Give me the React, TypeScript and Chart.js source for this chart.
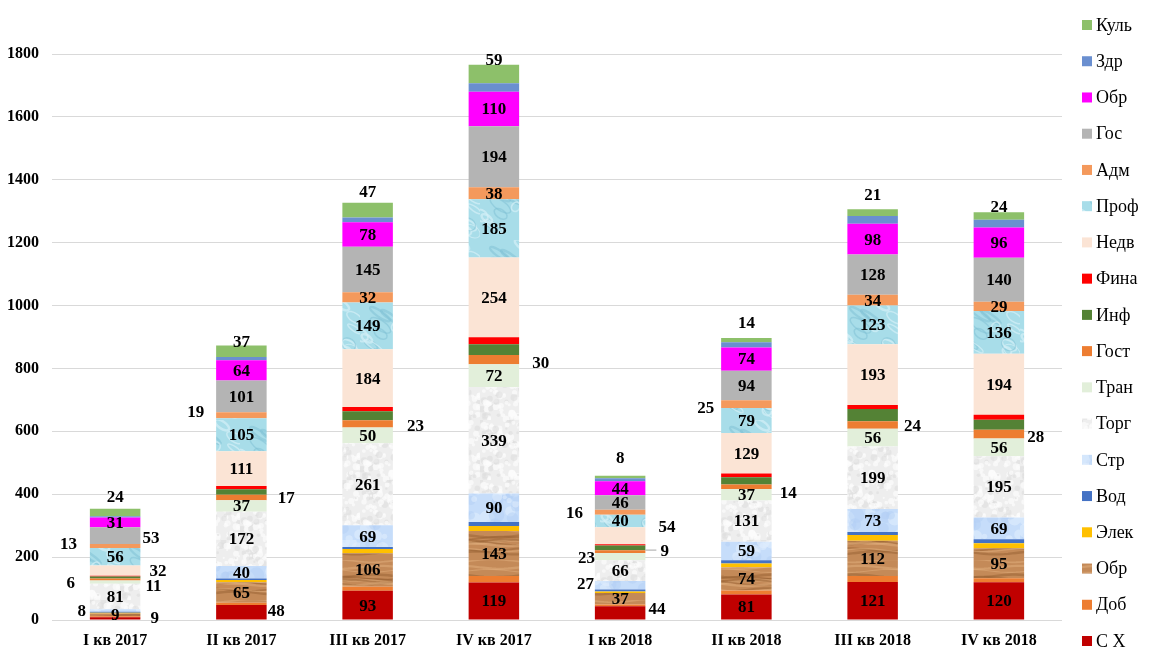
import React, { useEffect, useRef } from 'react';
import { Chart, registerables } from 'chart.js';

Chart.register(...registerables);

// ---------- DATA ----------
const categories = ['I кв 2017', 'II кв 2017', 'III кв 2017', 'IV кв 2017', 'I кв 2018', 'II кв 2018', 'III кв 2018', 'IV кв 2018'];

const seriesNames = ['С Х', 'Доб', 'Обр', 'Элек', 'Вод', 'Стр', 'Торг', 'Тран', 'Гост', 'Инф', 'Фина', 'Недв', 'Проф', 'Адм', 'Гос', 'Обр', 'Здр', 'Куль'];

const sx = [9, 48, 93, 119, 44, 81, 121, 120];
const dob = [3, 7, 13, 21, 5, 13, 19, 13];
const obrMan = [9, 65, 106, 143, 37, 74, 112, 95];
const elek = [2, 7, 14, 16, 5, 12, 18, 16];
const vod = [3, 5, 6, 13, 6, 10, 10, 13];
const str = [8, 40, 69, 90, 27, 59, 73, 69];
const torg = [81, 172, 261, 339, 66, 131, 199, 195];
const tran = [11, 37, 50, 72, 23, 37, 56, 56];
const gost = [6, 17, 23, 30, 9, 14, 24, 28];
const inf = [6, 18, 29, 34, 15, 23, 39, 32];
const fina = [3, 10, 13, 22, 4, 12, 13, 16];
const nedv = [32, 111, 184, 254, 54, 129, 193, 194];
const prof = [56, 105, 149, 185, 40, 79, 123, 136];
const adm = [13, 19, 32, 38, 16, 25, 34, 29];
const gos = [53, 101, 145, 194, 46, 94, 128, 140];
const obrEdu = [31, 64, 78, 110, 44, 74, 98, 96];
const zdr = [4, 10, 15, 27, 10, 16, 25, 25];
const kul = [24, 37, 47, 59, 8, 14, 21, 24];

const seriesValues = [sx, dob, obrMan, elek, vod, str, torg, tran, gost, inf, fina, nedv, prof, adm, gos, obrEdu, zdr, kul];

// ---------- LABEL LAYOUT (style, not data) ----------
const centreLabelled = [0, 2, 5, 6, 7, 11, 12, 13, 14, 15];
// outside labels: [series, bar, side, gap px from bar edge, dy px, leader]
const outsideLabels: [number, number, 'l' | 'r', number, number, boolean][] = [
  [0, 0, 'r', 10, -1, false],
  [5, 0, 'l', 4, 0, false],
  [8, 0, 'l', 15, 3, false],
  [7, 0, 'r', 5, 3, false],
  [11, 0, 'r', 9, 0, false],
  [13, 0, 'l', 13, -2, false],
  [14, 0, 'r', 2, 2, false],
  [0, 1, 'r', 1, -2, false],
  [8, 1, 'r', 11, 0, false],
  [13, 1, 'l', 12, -4, false],
  [8, 2, 'r', 14, 2, false],
  [8, 3, 'r', 13, 3, false],
  [0, 4, 'r', 3, -4, false],
  [5, 4, 'l', 1, -2, false],
  [7, 4, 'l', 0, 1, false],
  [8, 4, 'r', 15, -1, true],
  [11, 4, 'r', 13, -9, false],
  [13, 4, 'l', 12, 0, false],
  [8, 5, 'r', 8, 6, false],
  [13, 5, 'l', 7, 3, false],
  [8, 6, 'r', 6, 1, false],
  [8, 7, 'r', 3, 2, false],
];
const topLabelGap = [12, 4, 11, 5, 18, 15, 15, 6];

// ---------- TEXTURES ----------
function rnd(i: number) {
  const x = Math.sin(i * 12.9898 + 78.233) * 43758.5453;
  return x - Math.floor(x);
}

function makeCanvas(w: number, h: number) {
  const c = document.createElement('canvas');
  c.width = w;
  c.height = h;
  return c;
}

function woodPattern(ctx: CanvasRenderingContext2D) {
  const c = makeCanvas(80, 40);
  const g = c.getContext('2d')!;
  g.fillStyle = '#C48A58';
  g.fillRect(0, 0, 80, 40);
  for (let k = 0; k < 14; k++) {
    const y0 = rnd(k) * 40;
    g.strokeStyle = k % 2 ? 'rgba(150,95,50,0.5)' : 'rgba(225,175,125,0.5)';
    g.lineWidth = 1 + rnd(k + 50) * 1.5;
    g.beginPath();
    for (let x = 0; x <= 80; x += 4) {
      const y = y0 + Math.sin((x / 80) * Math.PI * 2 + k) * 1.5;
      if (x === 0) g.moveTo(x, y);
      else g.lineTo(x, y);
    }
    g.stroke();
  }
  return ctx.createPattern(c, 'repeat')!;
}

function marblePattern(ctx: CanvasRenderingContext2D) {
  const c = makeCanvas(60, 60);
  const g = c.getContext('2d')!;
  g.fillStyle = '#EEEEEE';
  g.fillRect(0, 0, 60, 60);
  for (let k = 0; k < 160; k++) {
    const x = rnd(k * 3) * 60;
    const y = rnd(k * 3 + 1) * 60;
    const r = 1 + rnd(k * 3 + 2) * 2.5;
    g.fillStyle = k % 3 === 0 ? 'rgba(222,222,222,0.6)' : 'rgba(252,252,252,0.7)';
    g.beginPath();
    g.arc(x, y, r, 0, Math.PI * 2);
    g.fill();
  }
  return ctx.createPattern(c, 'repeat')!;
}

function waterPattern(ctx: CanvasRenderingContext2D) {
  const c = makeCanvas(60, 60);
  const g = c.getContext('2d')!;
  g.fillStyle = '#A8DDE9';
  g.fillRect(0, 0, 60, 60);
  for (let k = 0; k < 16; k++) {
    const x0 = rnd(k * 5) * 60;
    const y0 = rnd(k * 5 + 1) * 60;
    g.strokeStyle = k % 3 === 0 ? 'rgba(125,192,212,0.5)' : 'rgba(212,240,247,0.7)';
    g.lineWidth = 1 + rnd(k * 5 + 2) * 1.5;
    g.beginPath();
    g.ellipse(x0, y0, 4 + rnd(k * 5 + 3) * 8, 2 + rnd(k * 5 + 4) * 4, 0.6, 0, Math.PI * 2);
    g.stroke();
  }
  return ctx.createPattern(c, 'repeat')!;
}

function skyPattern(ctx: CanvasRenderingContext2D) {
  const c = makeCanvas(60, 60);
  const g = c.getContext('2d')!;
  g.fillStyle = '#C6DDFA';
  g.fillRect(0, 0, 60, 60);
  for (let k = 0; k < 40; k++) {
    const x = rnd(k * 7) * 60;
    const y = rnd(k * 7 + 1) * 60;
    const r = 2 + rnd(k * 7 + 2) * 6;
    g.fillStyle = k % 2 ? 'rgba(225,238,253,0.55)' : 'rgba(178,207,245,0.45)';
    g.beginPath();
    g.arc(x, y, r, 0, Math.PI * 2);
    g.fill();
  }
  return ctx.createPattern(c, 'repeat')!;
}

// ---------- PLUGINS ----------
const SERIF = '"Liberation Serif", "Times New Roman", serif';
const LABEL_FONT = 'bold 17px ' + SERIF;

const dataLabelPlugin = {
  id: 'dataLabels',
  afterDatasetsDraw(chart: any) {
    const ctx: CanvasRenderingContext2D = chart.ctx;
    ctx.save();
    ctx.font = LABEL_FONT;
    ctx.fillStyle = '#000';
    ctx.textBaseline = 'middle';
    const outsideKey = new Set(outsideLabels.map((o) => o[0] + '_' + o[1]));
    centreLabelled.forEach((s) => {
      const meta = chart.getDatasetMeta(s);
      meta.data.forEach((el: any, b: number) => {
        if (outsideKey.has(s + '_' + b)) return;
        const v = chart.data.datasets[s].data[b];
        ctx.textAlign = 'center';
        ctx.fillText(String(v), el.x, (el.y + el.base) / 2 + 1);
      });
    });
    outsideLabels.forEach(([s, b, side, gap, dy, leader]) => {
      const el: any = chart.getDatasetMeta(s).data[b];
      const v = chart.data.datasets[s].data[b];
      const cy = (el.y + el.base) / 2 + dy + 1;
      const half = el.width / 2;
      if (side === 'l') {
        ctx.textAlign = 'right';
        ctx.fillText(String(v), el.x - half - gap, cy);
      } else {
        ctx.textAlign = 'left';
        ctx.fillText(String(v), el.x + half + gap, cy);
        if (leader) {
          ctx.strokeStyle = '#A6A6A6';
          ctx.lineWidth = 1;
          ctx.beginPath();
          ctx.moveTo(el.x + half, cy - 1.5);
          ctx.lineTo(el.x + half + gap - 4, cy - 1.5);
          ctx.stroke();
        }
      }
    });
    const last = seriesValues.length - 1;
    chart.getDatasetMeta(last).data.forEach((el: any, b: number) => {
      const v = chart.data.datasets[last].data[b];
      ctx.textAlign = 'center';
      ctx.fillText(String(v), el.x, el.y - topLabelGap[b] + 1);
    });
    ctx.restore();
  },
};

const legendPlugin = {
  id: 'sideLegend',
  afterDraw(chart: any) {
    const ctx: CanvasRenderingContext2D = chart.ctx;
    const ds = chart.data.datasets;
    const n = ds.length;
    const x0 = chart.chartArea.right + 20;
    const yTop = 25;
    const yBottom = 641;
    const step = (yBottom - yTop) / (n - 1);
    ctx.save();
    ctx.font = '18px ' + SERIF;
    ctx.textBaseline = 'middle';
    ctx.textAlign = 'left';
    for (let k = 0; k < n; k++) {
      const i = n - 1 - k;
      const y = yTop + k * step;
      ctx.fillStyle = ds[i].backgroundColor;
      ctx.fillRect(x0, y - 5, 10, 10);
      ctx.fillStyle = '#000';
      ctx.fillText(ds[i].label, x0 + 14, y + 1);
    }
    ctx.restore();
  },
};

// ---------- COMPONENT ----------
export default function App() {
  const ref = useRef<HTMLCanvasElement>(null);

  useEffect(() => {
    const canvas = ref.current!;
    const ctx = canvas.getContext('2d')!;
    const colors: any[] = [
      '#C00000', // С Х
      '#ED7D31', // Доб
      woodPattern(ctx), // Обр
      '#FFC000', // Элек
      '#4472C4', // Вод
      skyPattern(ctx), // Стр
      marblePattern(ctx), // Торг
      '#E2EFDA', // Тран
      '#ED7D31', // Гост
      '#548235', // Инф
      '#FF0000', // Фина
      '#FBE4D5', // Недв
      waterPattern(ctx), // Проф
      '#F4995C', // Адм
      '#B4B4B4', // Гос
      '#FF00FF', // Обр
      '#6A8FD0', // Здр
      '#8DC06A', // Куль
    ];

    const chart = new Chart(canvas, {
      type: 'bar',
      data: {
        labels: categories,
        datasets: seriesValues.map((vals, i) => ({
          label: seriesNames[i],
          data: vals,
          backgroundColor: colors[i],
          borderWidth: 0,
          barPercentage: 0.4,
          categoryPercentage: 1,
        })),
      },
      options: {
        responsive: false,
        animation: false,
        devicePixelRatio: 1,
        layout: { padding: { top: 54, right: 105, bottom: 0, left: 0 } },
        plugins: {
          legend: { display: false },
          tooltip: { enabled: false },
          title: { display: false },
        },
        scales: {
          x: {
            stacked: true,
            grid: { display: false, drawTicks: false },
            border: { display: false },
            ticks: {
              color: '#000',
              padding: 11,
              font: { family: SERIF, size: 16, weight: 'bold' },
            },
            afterFit: (scale: any) => {
              scale.height = 48;
            },
          },
          y: {
            stacked: true,
            min: 0,
            max: 1800,
            grid: { color: '#D9D9D9', lineWidth: 1, drawTicks: false },
            border: { display: false },
            ticks: {
              stepSize: 200,
              color: '#000',
              padding: 13,
              font: { family: SERIF, size: 16, weight: 'bold' },
              callback: (v: any) => String(v),
            },
            afterFit: (scale: any) => {
              scale.width = 52;
            },
          },
        },
      },
      plugins: [dataLabelPlugin, legendPlugin],
    } as any);

    return () => chart.destroy();
  }, []);

  return (
    <div style={{ position: 'fixed', left: 0, top: 0, width: 1167, height: 668, background: '#fff' }}>
      <canvas ref={ref} width={1167} height={668} style={{ display: 'block' }} />
    </div>
  );
}
